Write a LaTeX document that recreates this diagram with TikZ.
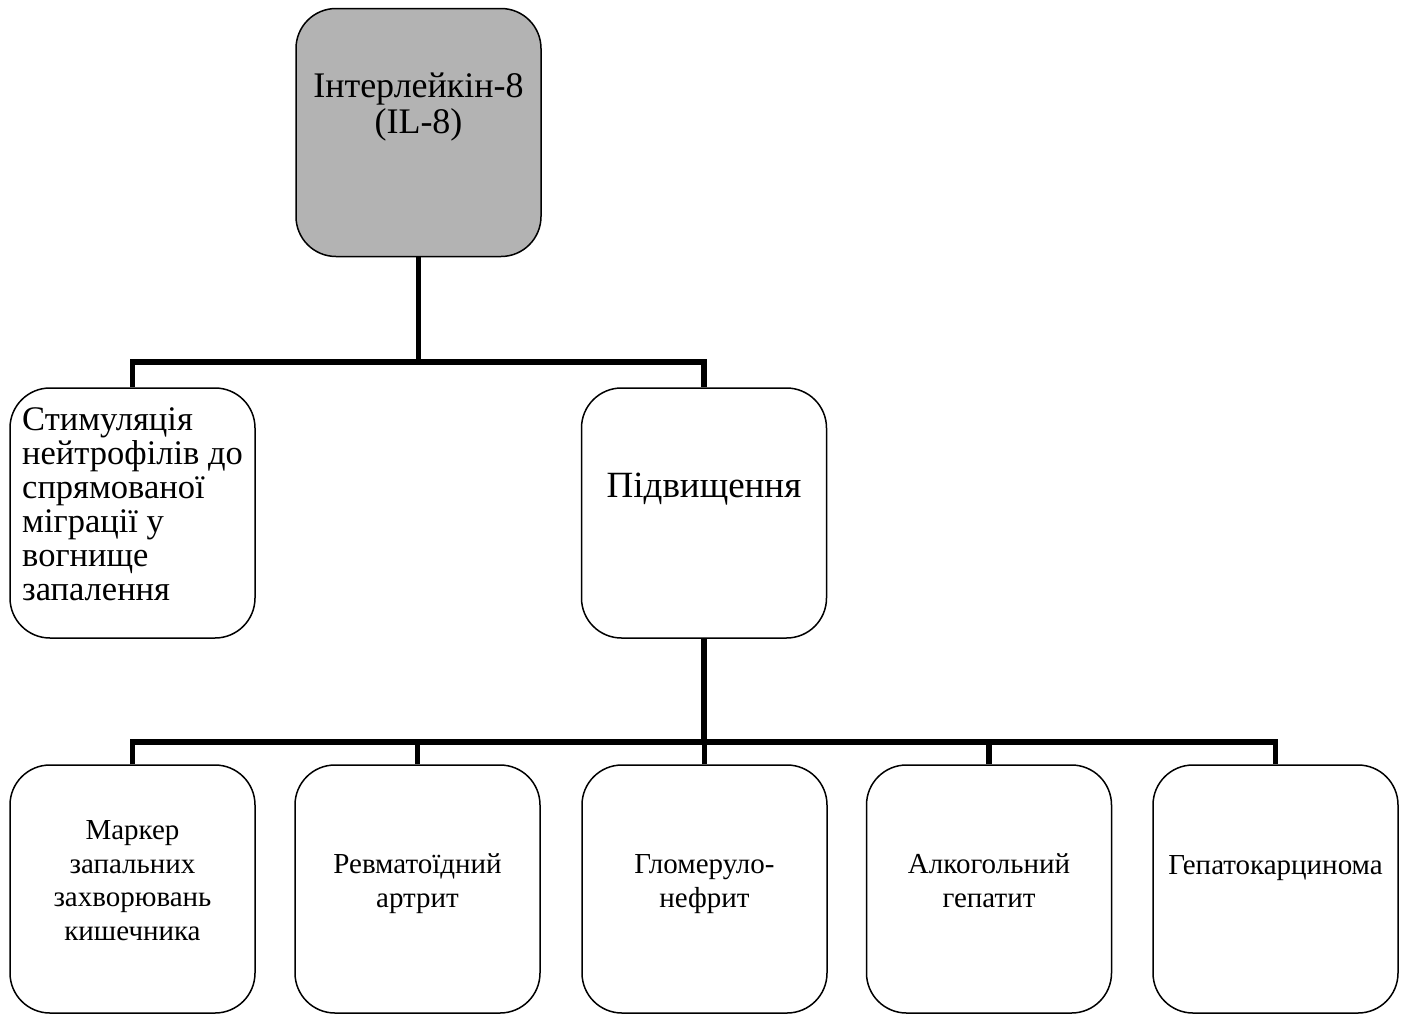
\documentclass[tikz,border=0pt]{standalone}
\usepackage{fontspec}
\setmainfont{Liberation Serif}
\usetikzlibrary{calc}
\definecolor{boxgray}{RGB}{179,179,179}
\begin{document}
\begin{tikzpicture}[x=1pt,y=-1pt,
  box/.style={draw=black, line width=1.5pt, rounded corners=40pt,
    minimum width=245pt, minimum height=248pt, inner sep=0pt},
  lowbox/.style={box, minimum height=248pt},
  conn/.style={draw=black, line width=5.5pt},
  big/.style={font=\fontsize{36}{36}\selectfont, inner sep=0pt},
  small/.style={font=\fontsize{29}{33.5}\selectfont, inner sep=0pt},
  side/.style={font=\fontsize{34.5}{34}\selectfont, inner sep=0pt}]
\useasboundingbox (0,0) rectangle (1408,1015);

% boxes
\node[box, fill=boxgray] (top) at (418.5,132.5) {};
\node[box, minimum height=250pt] (stim) at (132.5,513) {};
\node[box, minimum height=250pt] (rise) at (704,513) {};
\node[lowbox] (b1) at (132.5,889) {};
\node[lowbox] (b2) at (417.5,889) {};
\node[lowbox] (b3) at (704.5,889) {};
\node[lowbox] (b4) at (989,889) {};
\node[lowbox] (b5) at (1275.5,889) {};

% texts
\node[big, align=center, anchor=base] (toptext) at (418.5,133) {Інтерлейкін-8\\(IL-8)};
\node[side, align=left, anchor=base west] (stimtext) at (22,600)
  {Стимуляція\\нейтрофілів до\\спрямованої\\міграції у\\вогнище\\запалення};
\node[font=\fontsize{37}{37}\selectfont, inner sep=0pt, anchor=base] (risetext) at (704,497) {Підвищення};
\node[small, align=center, anchor=base] (t1) at (132.5,940) {Маркер\\запальних\\захворювань\\кишечника};
\node[small, align=center, anchor=base] (t2) at (417.5,907) {Ревматоїдний\\артрит};
\node[small, align=center, anchor=base] (t3) at (704.5,907) {Гломеруло-\\нефрит};
\node[small, align=center, anchor=base] (t4) at (989,907) {Алкогольний\\гепатит};
\node[small, align=center, anchor=base] (t5) at (1275.5,874) {Гепатокарцинома};

% connectors
\coordinate (j1) at (418.5,362);
\coordinate (j2) at (704,742);
\draw[conn] (top.south) -- (j1);
\draw[conn] (stim.north) |- (rise.north |- j1) -- (rise.north);
\draw[conn] (rise.south) -- (j2);
\draw[conn] (b1.north) |- (b5.north |- j2) -- (b5.north);
\draw[conn] (b2.north) -- (b2.north |- j2);
\draw[conn] (b3.north) -- (b3.north |- j2);
\draw[conn] (b4.north) -- (b4.north |- j2);
\end{tikzpicture}
\end{document}
